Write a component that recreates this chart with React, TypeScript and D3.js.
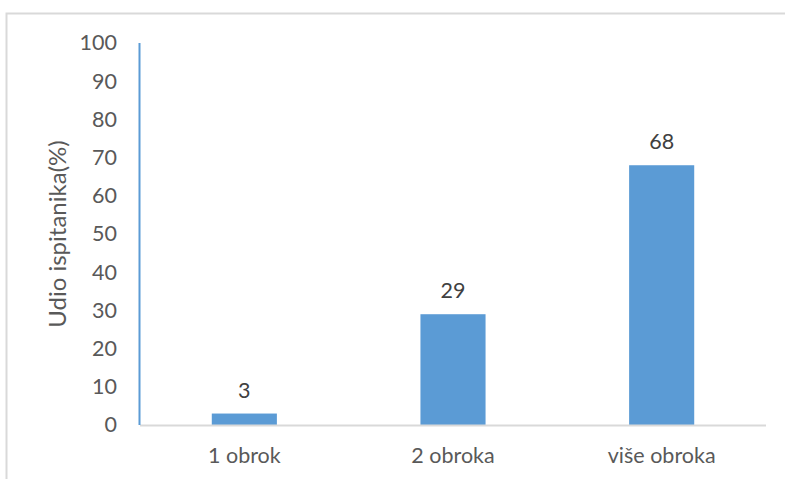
import React, { useRef, useEffect } from "react";
import * as d3 from "d3";

const CATEGORIES = ["1 obrok", "2 obroka", "više obroka"];
const VALUES = [3, 29, 68];
const Y_TICKS = [0, 10, 20, 30, 40, 50, 60, 70, 80, 90, 100];
const Y_TITLE = "Udio ispitanika(%)";

const W = 785;
const H = 479;
const FONT = "Lato, 'Open Sans', sans-serif";

const App: React.FC = () => {
  const svgRef = useRef<SVGSVGElement | null>(null);

  useEffect(() => {
    document.body.style.margin = "0";
    if (!svgRef.current) return;
    const svg = d3.select(svgRef.current);
    svg.selectAll("*").remove();

    const margin = { top: 43, right: 19, bottom: 54, left: 140 };
    const innerW = W - margin.left - margin.right;
    const innerH = H - margin.top - margin.bottom;

    // chart frame (runs off the bottom / right edge)
    svg
      .append("rect")
      .attr("x", 6.5)
      .attr("y", 13.5)
      .attr("width", 820)
      .attr("height", 500)
      .attr("fill", "none")
      .attr("stroke", "#d9d9d9")
      .attr("stroke-width", 2);

    const x = d3
      .scaleBand()
      .domain(CATEGORIES)
      .range([0, innerW])
      .paddingInner(0.688)
      .paddingOuter(0.344);

    const y = d3.scaleLinear().domain([0, 100]).range([innerH, 0]);

    const g = svg
      .append("g")
      .attr("transform", `translate(${margin.left},${margin.top})`);

    /* bars */
    g.selectAll(".bar")
      .data(VALUES)
      .join("rect")
      .attr("x", (_, i) => x(CATEGORIES[i])!)
      .attr("y", (d) => y(d))
      .attr("width", x.bandwidth())
      .attr("height", (d) => innerH - y(d))
      .attr("fill", "#5b9bd5");

    /* data labels */
    g.selectAll(".lbl")
      .data(VALUES)
      .join("text")
      .attr("x", (_, i) => x(CATEGORIES[i])! + x.bandwidth() / 2)
      .attr("y", (d) => y(d) - 16)
      .attr("text-anchor", "middle")
      .attr("fill", "#404040")
      .attr("font-family", FONT)
      .attr("font-size", "21.5px")
      .text((d) => `${d}`);

    /* x axis line */
    g.append("line")
      .attr("x1", 0)
      .attr("x2", innerW)
      .attr("y1", innerH + 0.5)
      .attr("y2", innerH + 0.5)
      .attr("stroke", "#d9d9d9")
      .attr("stroke-width", 2);

    /* y axis line */
    g.append("line")
      .attr("x1", -0.5)
      .attr("x2", -0.5)
      .attr("y1", 0)
      .attr("y2", innerH)
      .attr("stroke", "#5b9bd5")
      .attr("stroke-width", 2);

    /* y ticks */
    const yAxis = d3.axisLeft(y).tickValues(Y_TICKS).tickSize(0).tickPadding(23);
    g.append("g")
      .call(yAxis)
      .call((s) => s.select(".domain").remove())
      .call((s) =>
        s
          .selectAll(".tick text")
          .attr("fill", "#595959")
          .attr("font-family", FONT)
          .attr("font-size", "21.5px")
      );

    /* x labels */
    g.append("g")
      .selectAll("text")
      .data(CATEGORIES)
      .join("text")
      .attr("x", (d) => x(d)! + x.bandwidth() / 2)
      .attr("y", innerH + 38)
      .attr("text-anchor", "middle")
      .attr("fill", "#595959")
      .attr("font-family", FONT)
      .attr("font-size", "21.5px")
      .text((d) => d);

    /* y title */
    g.append("text")
      .attr("transform", `translate(${-140 + 66},${innerH / 2}) rotate(-90)`)
      .attr("text-anchor", "middle")
      .attr("fill", "#595959")
      .attr("font-family", FONT)
      .attr("font-size", "24px")
      .text(Y_TITLE);
  }, []);

  return (
    <div style={{ width: W, height: H }}>
      <svg ref={svgRef} width={W} height={H} style={{ display: "block" }} />
    </div>
  );
};

export default App;
